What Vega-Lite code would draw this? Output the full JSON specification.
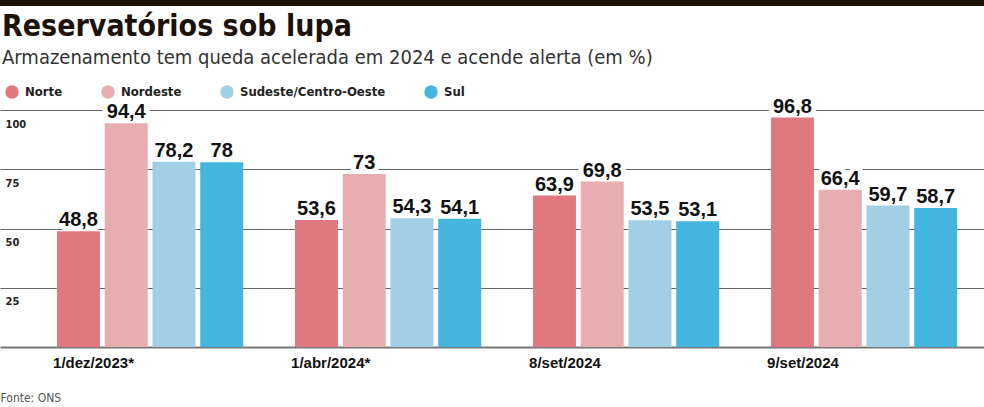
{
  "$schema": "https://vega.github.io/schema/vega-lite/v6.json",
  "width": 984,
  "height": 237,
  "autosize": {"type": "none"},
  "padding": {"left": 0, "top": 110, "right": 0, "bottom": 60},
  "background": "white",
  "config": {"view": {"stroke": null}},
  "title": {
    "text": "Reservatórios sob lupa",
    "subtitle": "Armazenamento tem queda acelerada em 2024 e acende alerta (em %)",
    "anchor": "start",
    "frame": "group",
    "dx": 2,
    "offset": -68,
    "font": "DejaVu Sans Condensed",
    "fontSize": 30,
    "fontWeight": "bold",
    "color": "#1c1209",
    "subtitleFont": "DejaVu Sans Condensed",
    "subtitleFontSize": 20,
    "subtitleFontWeight": "normal",
    "subtitleColor": "#333333",
    "subtitlePadding": 6
  },
  "data": {
    "values": [
      {"data": "1/dez/2023*", "regiao": "Norte", "valor": 48.8},
      {"data": "1/dez/2023*", "regiao": "Nordeste", "valor": 94.4},
      {"data": "1/dez/2023*", "regiao": "Sudeste/Centro-Oeste", "valor": 78.2},
      {"data": "1/dez/2023*", "regiao": "Sul", "valor": 78},
      {"data": "1/abr/2024*", "regiao": "Norte", "valor": 53.6},
      {"data": "1/abr/2024*", "regiao": "Nordeste", "valor": 73},
      {"data": "1/abr/2024*", "regiao": "Sudeste/Centro-Oeste", "valor": 54.3},
      {"data": "1/abr/2024*", "regiao": "Sul", "valor": 54.1},
      {"data": "8/set/2024", "regiao": "Norte", "valor": 63.9},
      {"data": "8/set/2024", "regiao": "Nordeste", "valor": 69.8},
      {"data": "8/set/2024", "regiao": "Sudeste/Centro-Oeste", "valor": 53.5},
      {"data": "8/set/2024", "regiao": "Sul", "valor": 53.1},
      {"data": "9/set/2024", "regiao": "Norte", "valor": 96.8},
      {"data": "9/set/2024", "regiao": "Nordeste", "valor": 66.4},
      {"data": "9/set/2024", "regiao": "Sudeste/Centro-Oeste", "valor": 59.7},
      {"data": "9/set/2024", "regiao": "Sul", "valor": 58.7}
    ]
  },
  "transform": [
    {"calculate": "replace(toString(datum.valor), '.', ',')", "as": "rotulo"}
  ],
  "encoding": {
    "x": {
      "field": "data",
      "type": "nominal",
      "sort": null,
      "scale": {"paddingInner": 0.1975, "paddingOuter": 0.166, "align": 0.691},
      "axis": {
        "title": "Fonte: ONS",
        "titleAnchor": "start",
        "titleAlign": "left",
        "titleFont": "DejaVu Sans Condensed",
        "titleFontSize": 12,
        "titleFontWeight": "normal",
        "titleColor": "#555555",
        "titlePadding": 22,
        "labelAngle": 0,
        "labelAlign": "left",
        "labelBaseline": "top",
        "labelOffset": -97,
        "labelPadding": 8,
        "labelFont": "Liberation Sans",
        "labelFontSize": 15,
        "labelFontWeight": "bold",
        "labelColor": "#111111",
        "ticks": false,
        "grid": false,
        "domain": true,
        "domainColor": "#777777",
        "domainWidth": 2
      }
    },
    "xOffset": {
      "field": "regiao",
      "type": "nominal",
      "sort": ["Norte", "Nordeste", "Sudeste/Centro-Oeste", "Sul"],
      "scale": {"paddingInner": 0.1, "paddingOuter": 0.05}
    },
    "y": {
      "field": "valor",
      "type": "quantitative",
      "scale": {"domain": [0, 100], "nice": false},
      "axis": {
        "title": null,
        "values": [25, 50, 75, 100],
        "ticks": false,
        "domain": false,
        "grid": true,
        "gridColor": "#666666",
        "gridWidth": 1,
        "labelAlign": "left",
        "labelBaseline": "middle",
        "labelPadding": -5,
        "labelOffset": 14,
        "labelFont": "DejaVu Sans Condensed",
        "labelFontSize": 11,
        "labelFontWeight": "bold",
        "labelColor": "#222222"
      }
    }
  },
  "layer": [
    {
      "mark": {"type": "rule", "stroke": "#1c1209", "strokeWidth": 6},
      "encoding": {
        "x": null,
        "xOffset": null,
        "y": {"datum": 145.1, "type": "quantitative"}
      }
    },
    {
      "mark": {"type": "text", "baseline": "alphabetic", "dy": -5, "font": "Liberation Sans", "fontSize": 20, "fontWeight": "bold", "stroke": "white", "strokeWidth": 10, "strokeJoin": "round", "fill": "white"},
      "encoding": {"text": {"field": "rotulo"}}
    },
    {
      "mark": {"type": "bar"},
      "encoding": {
        "color": {
          "field": "regiao",
          "type": "nominal",
          "sort": ["Norte", "Nordeste", "Sudeste/Centro-Oeste", "Sul"],
          "scale": {
            "domain": ["Norte", "Nordeste", "Sudeste/Centro-Oeste", "Sul"],
            "range": ["#e07880", "#e8adb1", "#a2cfe5", "#44b5df"]
          },
          "legend": {
            "title": null,
            "orient": "none",
            "legendX": 5,
            "legendY": -25,
            "direction": "horizontal",
            "symbolType": "circle",
            "symbolSize": 180,
            "symbolStrokeWidth": 0,
            "labelFont": "DejaVu Sans Condensed",
            "labelFontSize": 13,
            "labelFontWeight": "bold",
            "labelColor": "#222222",
            "labelOffset": 6,
            "columnPadding": 38
          }
        }
      }
    },
    {
      "mark": {"type": "text", "baseline": "alphabetic", "dy": -5, "font": "Liberation Sans", "fontSize": 20, "fontWeight": "bold", "fill": "#111111"},
      "encoding": {"text": {"field": "rotulo"}}
    }
  ]
}
